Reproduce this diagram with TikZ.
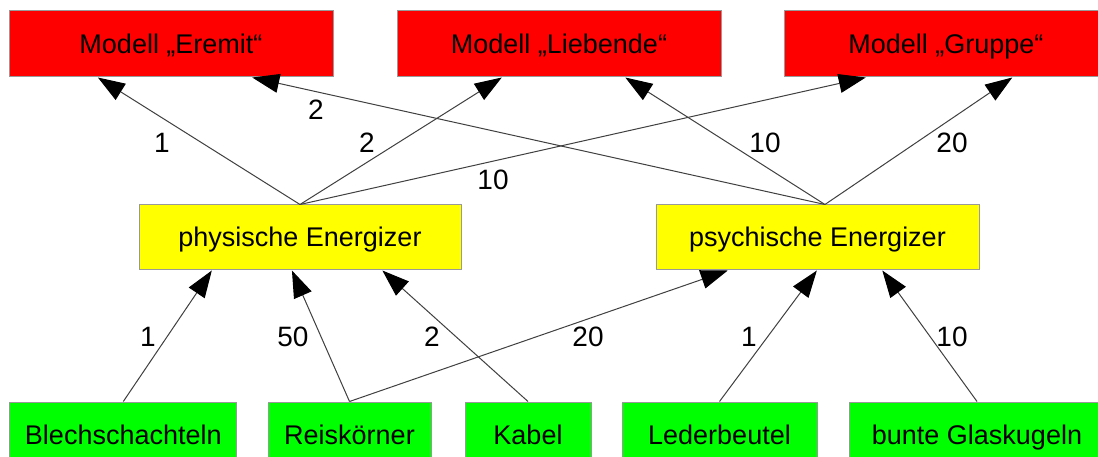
\documentclass[tikz,border=0pt]{standalone}
\usepackage{fontspec}
\setmainfont{Liberation Sans}
\usetikzlibrary{arrows.meta,calc}
\begin{document}
\begin{tikzpicture}[x=1pt,y=-1pt,
  box/.style={draw=black!40, line width=1pt, inner sep=0pt, font=\fontsize{27}{32}\selectfont, text height=19pt, text depth=0pt},
  redbox/.style={box, fill={rgb,255:red,255;green,0;blue,0}, minimum width=324pt, minimum height=66pt},
  yelbox/.style={box, fill={rgb,255:red,255;green,255;blue,0}, minimum width=322pt, minimum height=65pt},
  grnbox/.style={box, fill={rgb,255:red,0;green,255;blue,0}, minimum height=66pt},
  conn/.style={draw=black!75, line width=1pt, -{Triangle[length=27pt,width=19pt,black]}},
  lbl/.style={font=\fontsize{28}{32}\selectfont, inner sep=0pt}]
\useasboundingbox (0,0) rectangle (1098,457);
\clip (0,0) rectangle (1098,457);
\fill[white] (0,0) rectangle (1098,457);
% top
\node[redbox] (erem) at (171,44) {Modell „Eremit“};
\node[redbox] (lieb) at (559,44) {Modell „Liebende“};
\node[redbox] (grup) at (946,44) {Modell „Gruppe“};
% middle
\node[yelbox] (phys) at (300,237.5) {physische Energizer};
\node[yelbox, minimum width=323pt] (psyc) at (817.5,237.5) {psychische Energizer};
% bottom
\node[grnbox, minimum width=227pt] (blech) at (123.3,435) {Blechschachteln};
\node[grnbox, minimum width=163pt] (reis) at (349.5,435) {Reiskörner};
\node[grnbox, minimum width=126pt] (kabel) at (528,435) {Kabel};
\node[grnbox, minimum width=195pt] (leder) at (719.5,435) {Lederbeutel};
\node[grnbox, minimum width=256pt] (bunt) at (977,435) {bunte Glaskugeln};
% anchor points
\coordinate (ps) at ($(psyc.north west)!0.523!(psyc.north east)$);
\coordinate (e1) at ($(erem.south west)!0.275!(erem.south east)$);
\coordinate (e2) at ($(erem.south west)!0.75!(erem.south east)$);
\coordinate (l1) at ($(lieb.south west)!0.324!(lieb.south east)$);
\coordinate (l2) at ($(lieb.south west)!0.704!(lieb.south east)$);
\coordinate (g1) at ($(grup.south west)!0.253!(grup.south east)$);
\coordinate (g2) at ($(grup.south west)!0.704!(grup.south east)$);
\coordinate (pb1) at ($(phys.south west)!0.227!(phys.south east)$);
\coordinate (pb2) at ($(phys.south west)!0.475!(phys.south east)$);
\coordinate (pb3) at ($(phys.south west)!0.755!(phys.south east)$);
\coordinate (qb1) at ($(psyc.south west)!0.223!(psyc.south east)$);
\coordinate (qb2) at ($(psyc.south west)!0.498!(psyc.south east)$);
\coordinate (qb3) at ($(psyc.south west)!0.70!(psyc.south east)$);
% connectors top
\draw[conn] (phys.north) -- (e1);
\draw[conn] (phys.north) -- (l1);
\draw[conn] (phys.north) -- (g1);
\draw[conn] (ps) -- (e2);
\draw[conn] (ps) -- (l2);
\draw[conn] (ps) -- (g2);
% connectors bottom
\draw[conn] (blech.north) -- (pb1);
\draw[conn] (reis.north) -- (pb2);
\draw[conn] (kabel.north) -- (pb3);
\draw[conn] (reis.north) -- (qb1);
\draw[conn] (leder.north) -- (qb2);
\draw[conn] (bunt.north) -- (qb3);
% labels
\node[lbl] (t1) at (162,143) {1};
\node[lbl] (t2) at (316,110) {2};
\node[lbl] (t3) at (367,143) {2};
\node[lbl] (t4) at (493,180) {10};
\node[lbl] (t5) at (765,143) {10};
\node[lbl] (t6) at (952,143) {20};
\node[lbl] (b1) at (148,337) {1};
\node[lbl] (b2) at (293,337) {50};
\node[lbl] (b3) at (432,337) {2};
\node[lbl] (b4) at (588,337) {20};
\node[lbl] (b5) at (749,337) {1};
\node[lbl] (b6) at (952,337) {10};
\end{tikzpicture}
\end{document}
